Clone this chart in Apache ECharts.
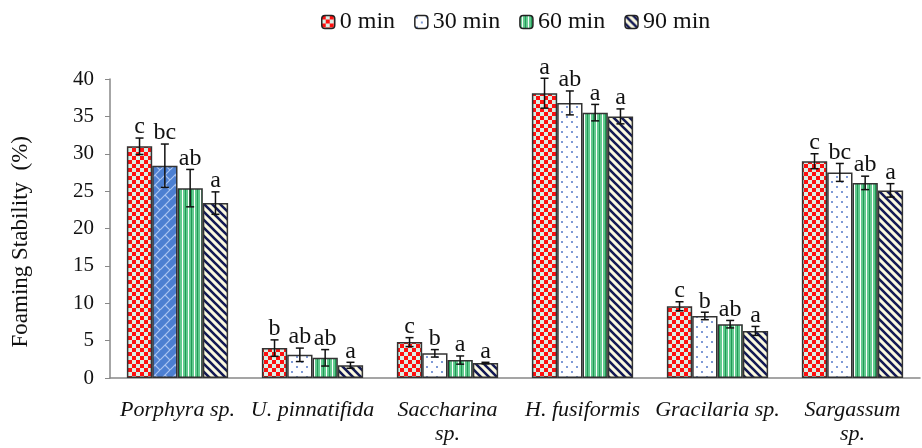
<!DOCTYPE html>
<html>
<head>
    <meta charset="utf-8">
    <title>Foaming Stability</title>
    <script src="https://cdn.jsdelivr.net/npm/echarts@6/dist/echarts.min.js"></script>
</head>
<body style="margin:0">
<div id="main" style="width: 922px;height:448px;"></div>
<script type="text/javascript">
    // data
    var categories = ['Porphyra sp.', 'U. pinnatifida', 'Saccharina\nsp.', 'H. fusiformis', 'Gracilaria sp.', 'Sargassum\nsp.'];
    var seriesNames = ['0 min', '30 min', '60 min', '90 min'];
    var values = [
        [31.0, 4.0, 4.8, 38.1, 9.6, 29.0],
        [28.4, 3.1, 3.3, 36.8, 8.3, 27.5],
        [25.4, 2.7, 2.4, 35.5, 7.2, 26.1],
        [23.4, 1.7, 2.0, 35.0, 6.3, 25.1]
    ];
    var errors = [
        [1.1, 1.1, 0.6, 2.0, 0.6, 1.0],
        [2.9, 0.9, 0.5, 1.6, 0.5, 1.2],
        [2.5, 1.1, 0.55, 1.1, 0.5, 0.9],
        [1.5, 0.4, 0.1, 1.0, 0.6, 0.9]
    ];
    var letters = [
        ['c', 'b', 'c', 'a', 'c', 'c'],
        ['bc', 'ab', 'b', 'ab', 'b', 'bc'],
        ['ab', 'ab', 'a', 'a', 'ab', 'ab'],
        ['a', 'a', 'a', 'a', 'a', 'a']
    ];
    var yTitle = 'Foaming Stability  (%)';

    // fill patterns
    function makeCanvas(w, h, draw) {
        var c = document.createElement('canvas');
        c.width = w; c.height = h;
        draw(c.getContext('2d'), w, h);
        return c;
    }
    function pattern(c) { return { image: c, repeat: 'repeat' }; }

    var checker = makeCanvas(8, 8, function (ctx) {
        ctx.fillStyle = '#d9efe6'; ctx.fillRect(0, 0, 8, 8);
        ctx.fillStyle = '#ff1010';
        ctx.fillRect(0, 0, 4, 4); ctx.fillRect(4, 4, 4, 4);
    });
    var dots = makeCanvas(10, 10, function (ctx) {
        ctx.fillStyle = '#ffffff'; ctx.fillRect(0, 0, 10, 10);
        ctx.fillStyle = '#7f9ad6';
        ctx.fillRect(1, 1, 2, 2); ctx.fillRect(6, 6, 2, 2);
    });
    var stripesV = makeCanvas(6, 6, function (ctx) {
        ctx.fillStyle = '#62c98e'; ctx.fillRect(0, 0, 6, 6);
        ctx.fillStyle = '#ffffff'; ctx.fillRect(2, 0, 1, 6);
        ctx.fillStyle = '#1f9a55'; ctx.fillRect(5, 0, 1, 6);
    });
    var diag = makeCanvas(8, 8, function (ctx) {
        ctx.fillStyle = '#fbf9df'; ctx.fillRect(0, 0, 8, 8);
        ctx.strokeStyle = '#141a55'; ctx.lineWidth = 2.6;
        ctx.beginPath();
        ctx.moveTo(-2, -2); ctx.lineTo(10, 10);
        ctx.moveTo(-2, 6); ctx.lineTo(2, 10);
        ctx.moveTo(6, -2); ctx.lineTo(10, 2);
        ctx.stroke();
    });
    var brick = makeCanvas(10, 10, function (ctx) {
        ctx.fillStyle = '#4c7fd1'; ctx.fillRect(0, 0, 10, 10);
        ctx.strokeStyle = '#a9c4f0'; ctx.lineWidth = 1.2;
        ctx.beginPath();
        ctx.moveTo(0, 10); ctx.lineTo(10, 0);
        ctx.moveTo(-5, 5); ctx.lineTo(0, 0);
        ctx.moveTo(5, 5); ctx.lineTo(10, 10);
        ctx.stroke();
    });
    var fills = [pattern(checker), pattern(dots), pattern(stripesV), pattern(diag)];

    var myChart = echarts.init(document.getElementById('main'));

    var bandGap = 0.25;
    var series = [];
    seriesNames.forEach(function (name, s) {
        series.push({
            name: name,
            type: 'bar',
            barGap: '0%',
            barCategoryGap: '25%',
            itemStyle: { color: fills[s], borderColor: '#333', borderWidth: 1.5 },
            data: values[s].map(function (v, i) {
                if (s === 1 && i === 0) {
                    return { value: v, itemStyle: { color: pattern(brick) } };
                }
                return v;
            })
        });
    });

    // error bars + significance letters
    series.push({
        type: 'custom',
        silent: true,
        z: 10,
        data: values[0].map(function (v, i) { return [i]; }),
        renderItem: function (params, api) {
            var i = api.value(0);
            var band = api.size([1, 0])[0];
            var groupW = band * (1 - bandGap);
            var barW = groupW / 4;
            var children = [];
            for (var s = 0; s < 4; s++) {
                var base = api.coord([i, values[s][i]]);
                var cx = base[0] - groupW / 2 + (s + 0.5) * barW;
                var top = api.coord([i, values[s][i] + errors[s][i]])[1];
                var bot = api.coord([i, values[s][i] - errors[s][i]])[1];
                var st = { stroke: '#111', lineWidth: 1.5 };
                children.push({ type: 'line', shape: { x1: cx, y1: top, x2: cx, y2: bot }, style: st });
                children.push({ type: 'line', shape: { x1: cx - 4, y1: top, x2: cx + 4, y2: top }, style: st });
                children.push({ type: 'line', shape: { x1: cx - 4, y1: bot, x2: cx + 4, y2: bot }, style: st });
                children.push({
                    type: 'text',
                    style: {
                        text: letters[s][i], x: cx, y: top + 1,
                        align: 'center', verticalAlign: 'bottom',
                        fill: '#111', font: '24px "Liberation Serif"'
                    }
                });
            }
            return { type: 'group', children: children };
        }
    });

    var option = {
        animation: false,
        legend: {
            top: 5,
            left: 316,
            itemWidth: 13,
            itemHeight: 13,
            itemGap: 19,
            data: seriesNames.map(function (n, s) {
                return { name: n, itemStyle: { color: fills[s], borderColor: '#222', borderWidth: 1.5 } };
            }),
            textStyle: { fontFamily: 'Liberation Serif', fontSize: 24, color: '#111' }
        },
        grid: { left: 110, right: 2, top: 79, bottom: 70 },
        graphic: [{
            type: 'text',
            left: 9,
            top: 136,
            style: {
                text: yTitle,
                font: '23px "Liberation Serif"',
                fill: '#111'
            },
            rotation: Math.PI / 2,
            originX: 0,
            originY: 0
        }],
        xAxis: {
            type: 'category',
            data: categories,
            axisTick: { show: false },
            axisLine: { lineStyle: { color: '#888', width: 1.5 } },
            axisLabel: {
                interval: 0,
                margin: 20,
                color: '#111',
                fontFamily: 'Liberation Serif',
                fontStyle: 'italic',
                fontSize: 22,
                lineHeight: 24
            }
        },
        yAxis: {
            type: 'value',
            min: 0,
            max: 40,
            interval: 5,
            splitLine: { show: false },
            axisLine: { show: true, lineStyle: { color: '#888', width: 1.5 } },
            axisTick: { show: true, length: 5, lineStyle: { color: '#888' } },
            axisLabel: { margin: 16, color: '#111', fontFamily: 'Liberation Serif', fontSize: 21 }
        },
        series: series
    };
    myChart.setOption(option);
</script>
</body>
</html>
